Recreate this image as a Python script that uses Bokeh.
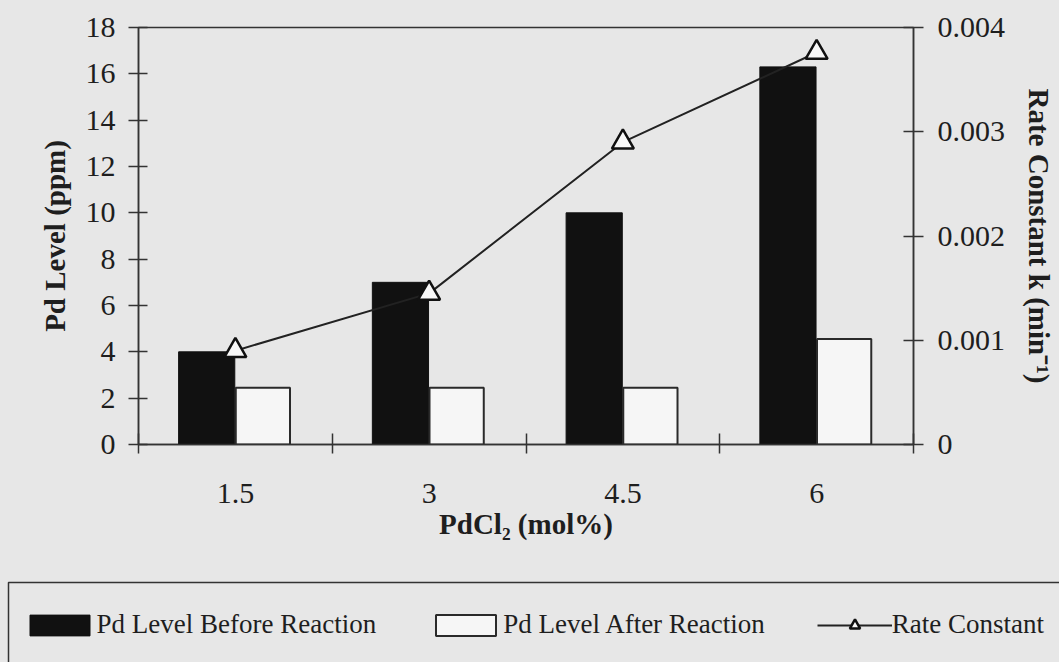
from jinja2 import Template
from bokeh.plotting import figure
from bokeh.models import (Range1d, LinearAxis, FixedTicker, CustomJSTickFormatter,
                          Legend, LegendItem, ColumnDataSource)
from bokeh.embed import file_html
from bokeh.resources import INLINE
from bokeh.core.templates import FILE

# ---- data ----
categories = ["1.5", "3", "4.5", "6"]
pd_before = [4.0, 7.0, 10.0, 16.3]
pd_after = [2.45, 2.45, 2.45, 4.55]
rate_k = [0.0009, 0.00145, 0.0029, 0.00376]
left_ticks = [0, 2, 4, 6, 8, 10, 12, 14, 16, 18]
right_ticks = [0, 0.001, 0.002, 0.003, 0.004]
legend_labels = ["Pd Level Before Reaction", "Pd Level After Reaction", "Rate Constant"]

FONT = "Liberation Serif"
BG = "#e7e7e7"
INK = "#1e1e1e"
W = 1059
H_MAIN = 560
H_LEG = 102

BLACK_BAR = dict(fill_color="#111111", line_color="#111111", line_width=1)
WHITE_BAR = dict(fill_color="#f6f6f6", line_color="#2a2a2a", line_width=2)
LINE = dict(line_color="#222222", line_width=2)
TRI = dict(marker="triangle", fill_color="#f8f8f8", line_color="#111111", line_width=2.5)

centers = [i + 0.5 for i in range(len(categories))]
src = ColumnDataSource(dict(
    xc=centers,
    xb=[c - 0.148 for c in centers],
    xa=[c + 0.142 for c in centers],
    before=pd_before, after=pd_after, rate=rate_k))

p = figure(width=W, height=H_MAIN, output_backend="svg", toolbar_location=None,
           x_range=Range1d(0, 4), y_range=Range1d(0, 18),
           min_border_left=138, min_border_right=W - 913, min_border_top=27,
           min_border_bottom=H_MAIN - 444)
p.extra_y_ranges = {"rate": Range1d(0, 0.004)}
p.background_fill_color = BG
p.border_fill_color = BG
p.outline_line_color = "#333333"
p.outline_line_width = 1.5
p.grid.visible = False

p.vbar(x="xb", top="before", width=0.29, source=src, **BLACK_BAR)
p.vbar(x="xa", top="after", width=0.28, source=src, **WHITE_BAR)
p.line(x="xc", y="rate", source=src, y_range_name="rate", **LINE)
p.scatter(x="xc", y="rate", source=src, y_range_name="rate", size=22, **TRI)

# left axis
ya = p.yaxis[0]
ya.ticker = FixedTicker(ticks=left_ticks)
ya.axis_label = "Pd Level (ppm)"

# bottom axis
xa = p.xaxis[0]
xa.ticker = FixedTicker(ticks=centers, minor_ticks=list(range(len(categories) + 1)))
xa.major_label_overrides = {c: lab for c, lab in zip(centers, categories)}
xa.axis_label = "PdCl\u2082 (mol%)"

# right axis
ra = LinearAxis(y_range_name="rate", ticker=FixedTicker(ticks=right_ticks),
                formatter=CustomJSTickFormatter(code="return tick === 0 ? '0' : tick.toFixed(3);"))
ra.axis_label = "Rate Constant k (min\u207b\u00b9)"
p.add_layout(ra, "right")

for ax in (ya, xa, ra):
    ax.axis_line_color = "#333333"
    ax.axis_line_width = 1.5
    ax.major_tick_line_color = "#333333"
    ax.major_tick_line_width = 1.5
    ax.minor_tick_line_color = "#333333"
    ax.minor_tick_line_width = 1.5
    ax.major_label_text_font = FONT
    ax.major_label_text_font_size = "30px"
    ax.major_label_text_color = INK
    ax.axis_label_text_font = FONT
    ax.axis_label_text_font_size = "29px"
    ax.axis_label_text_font_style = "bold"
    ax.axis_label_text_color = INK

xa.major_tick_in = 0
xa.major_tick_out = 0
xa.minor_tick_in = 11
xa.minor_tick_out = 9
xa.major_label_standoff = 30
xa.axis_label_standoff = 2

ya.major_tick_in = 9
ya.major_tick_out = 10
ya.minor_tick_in = 0
ya.minor_tick_out = 0
ya.major_label_standoff = 13
ya.axis_label_standoff = 12

ra.major_tick_in = 10
ra.major_tick_out = 10
ra.minor_tick_in = 0
ra.minor_tick_out = 0
ra.major_label_standoff = 14
ra.axis_label_standoff = 15

# ---- legend strip (separate root below the chart) ----
q = figure(width=W, height=H_LEG, output_backend="svg", toolbar_location=None,
           x_range=Range1d(0, W), y_range=Range1d(0, H_LEG),
           x_axis_location=None, y_axis_location=None,
           min_border_left=0, min_border_right=0, min_border_top=0, min_border_bottom=0)
q.background_fill_color = BG
q.border_fill_color = BG
q.outline_line_color = None
q.grid.visible = False
# legend frame (open to the right and bottom, as in the original)
q.quad(left=[8], right=[W + 200], top=[H_LEG - 22], bottom=[-100],
       fill_alpha=0, line_color="#333333", line_width=1.5)

# hidden copies of the series, used only for the legend swatches
l_before = q.vbar(x="xb", top="before", width=0.29, source=src, visible=False, **BLACK_BAR)
l_after = q.vbar(x="xa", top="after", width=0.28, source=src, visible=False, **WHITE_BAR)
l_line = q.line(x="xc", y="rate", source=src, visible=False, **LINE)
l_tri = q.scatter(x="xc", y="rate", source=src, size=14, visible=False, **TRI)

legend = Legend(items=[
    LegendItem(label=legend_labels[0], renderers=[l_before]),
    LegendItem(label=legend_labels[1], renderers=[l_after]),
    LegendItem(label=legend_labels[2], renderers=[l_line, l_tri]),
], orientation="horizontal", location=(11.5, 12))
legend.glyph_width = 75
legend.glyph_height = 26
legend.label_height = 26
legend.label_standoff = 0
legend.spacing = 52
legend.padding = 10
legend.margin = 0
legend.border_line_alpha = 0
legend.background_fill_alpha = 0
legend.inactive_fill_alpha = 0
legend.label_text_font = FONT
legend.label_text_font_size = "27px"
legend.label_text_color = INK
q.add_layout(legend)

page = Template(
    "{% extends base %}"
    "{% block preamble %}<style>html, body { background: " + BG + "; }</style>{% endblock %}"
)
html = file_html([p, q], INLINE, template=page, template_variables={"base": FILE})
open("out.html", "w").write(html)
